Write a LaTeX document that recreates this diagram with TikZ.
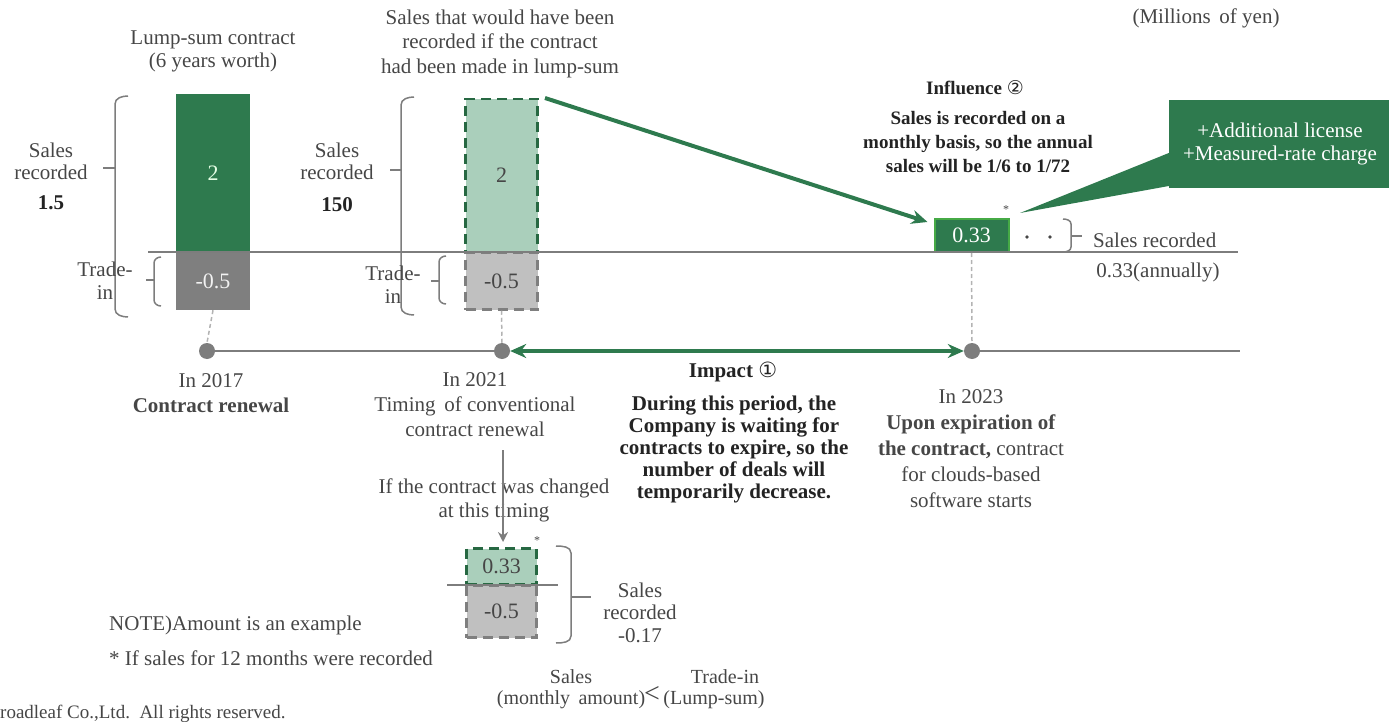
\documentclass[tikz,border=0pt]{standalone}
\usepackage{fontspec}
\setmainfont{Liberation Serif}
\newfontfamily\symfont{DejaVu Sans}
\usetikzlibrary{arrows.meta}

\definecolor{dkgreen}{RGB}{46,122,78}
\definecolor{ltgreen}{RGB}{170,207,187}
\definecolor{brgreen}{RGB}{70,170,70}
\definecolor{dkgrey}{RGB}{127,127,127}
\definecolor{ltgrey}{RGB}{192,192,192}
\definecolor{txt}{RGB}{70,70,70}
\definecolor{boldtxt}{RGB}{35,35,35}
\definecolor{linegrey}{RGB}{125,125,125}

\tikzset{
  lbl/.style={text=txt, font=\fontsize{21}{23}\selectfont, inner sep=0pt, align=center},
  blbl/.style={lbl, text=boldtxt, font=\fontsize{21}{23}\selectfont\bfseries},
  barbox/.style={minimum width=74pt, inner sep=0pt, font=\fontsize{22}{22}\selectfont},
  solidgreen/.style={barbox, fill=dkgreen, text=white!90!green},
  solidgrey/.style={barbox, fill=dkgrey, text=white!90!gray},
  dashgreen/.style={barbox, fill=ltgreen, draw=dkgreen!85!black, line width=2.5pt, dash pattern=on 10pt off 6pt, text=txt},
  dashgrey/.style={barbox, fill=ltgrey, draw=dkgrey, line width=2.5pt, dash pattern=on 10pt off 6pt, text=txt},
  bracepath/.style={draw=linegrey, line width=1.5pt},
  guide/.style={draw=ltgrey!80!gray, line width=1.5pt, dash pattern=on 4pt off 3pt},
  axisline/.style={draw=linegrey, line width=1.5pt},
  tdot/.style={circle, fill=linegrey, minimum size=16pt, inner sep=0pt},
  garrow/.style={draw=dkgreen, line width=4pt, -{Stealth[length=16pt,width=14pt]}},
  gdouble/.style={draw=dkgreen, line width=3.5pt, {Stealth[length=16pt,width=14pt]}-{Stealth[length=16pt,width=14pt]}},
}

\begin{document}
\begin{tikzpicture}[x=1pt,y=-1pt]
\useasboundingbox (0,0) rectangle (1389,722);

% ---- bars of the lump-sum contract (2017) ----
\node[solidgreen, minimum height=158pt] (b1s) at (213,173) {2};
\node[solidgrey, minimum height=58pt] (b1t) at (213,281) {-0.5};

% ---- bars of the hypothetical lump-sum contract (2021) ----
\node[dashgreen, minimum width=72pt, minimum height=153pt] (b2s) at (501.5,175.5) {2};
\node[dashgrey, minimum width=72pt, minimum height=57pt] (b2t) at (501.5,281) {-0.5};

% ---- monthly sales box (2023) ----
\node[barbox, minimum width=74pt, minimum height=33pt, fill=dkgreen, draw=brgreen, line width=2pt, text=white] (b3) at (971.5,235.5) {0.33};

% ---- zero line of the bars ----
\coordinate (z0) at (148,252);
\coordinate (z1) at (1238,252);
\draw[axisline] (z0) -- (z1);

% ---- braces around the first bars ----
\draw[bracepath] (128,96) to[out=180,in=90] (115,104) -- (115,309) to[out=-90,in=180] (128,317);
\draw[bracepath] (115,168) -- (103,168);
\draw[bracepath] (161,257) to[out=180,in=90] (154,263) -- (154,300) to[out=-90,in=180] (161,306);
\draw[bracepath] (154,280) -- (146,280);

\draw[bracepath] (414,97) to[out=180,in=90] (401,105) -- (401,307) to[out=-90,in=180] (414,315);
\draw[bracepath] (401,170) -- (390,170);
\draw[bracepath] (446,256) to[out=180,in=90] (439,262) -- (439,298) to[out=-90,in=180] (446,304);
\draw[bracepath] (439,281) -- (431,281);

% ---- brace of the monthly sales box ----
\draw[bracepath] (1063,219) to[out=0,in=90] (1071,224) -- (1071,247) to[out=-90,in=0] (1063,252);
\draw[bracepath] (1071,236) -- (1082,236);

% ---- continuation dots ----
\fill[txt] (1027,237) circle (1.8pt);
\fill[txt] (1050,237) circle (1.8pt);

% ---- labels around the bars ----
\node[lbl] (t1) at (213,51) {Lump-sum contract\\(6 years worth)};
\node[lbl, font=\fontsize{21}{24.5}\selectfont] (t2) at (500,43.5) {Sales that would have been\\recorded if the contract\\had been made in lump-sum};
\node[lbl] (units) at (1206,18) {(Millions\, of yen)};

\node[lbl, font=\fontsize{21}{22}\selectfont] (sr1) at (51,161) {Sales\\recorded};
\node[blbl] (v1) at (51,203) {1.5};
\node[lbl] (ti1) at (105,281) {Trade-\\in};

\node[lbl, font=\fontsize{21}{22}\selectfont] (sr2) at (337,161) {Sales\\recorded};
\node[blbl] (v2) at (337,205) {150};
\node[lbl] (ti2) at (393,285) {Trade-\\in};

\node[lbl, anchor=west] (sr3) at (1093,240) {Sales recorded};
\node[lbl] (sr3v) at (1158,272) {0.33(annually)};

\node[lbl, font=\fontsize{12}{12}\selectfont] (ast1) at (1006,210) {*};

% ---- callout of additional charges ----
\node[lbl, fill=dkgreen, text=white, minimum width=222pt, minimum height=88pt] (call) at (1280,144) {+Additional license\\+Measured-rate charge};
\coordinate (calltip) at (1020,213);
\fill[dkgreen] (calltip) -- (call.west |- 0,153) -- (call.west |- 0,186) -- cycle;

% ---- influence text ----
\node[blbl, font=\fontsize{19}{23}\selectfont\bfseries] (inf) at (975,88) {Influence {\symfont\mdseries ②}};
\node[blbl, font=\fontsize{19}{24}\selectfont\bfseries] (infb) at (978,142) {Sales is recorded on a\\monthly basis, so the annual\\sales will be 1/6 to 1/72};

% ---- arrow from the lump-sum bar to the monthly box ----
\coordinate (ga0) at (545,98);
\draw[garrow] (ga0) -- ([xshift=-6pt,yshift=-4pt]b3.north west);

% ---- timeline ----
\node[tdot] (d1) at (207,351) {};
\node[tdot] (d2) at (502,351) {};
\node[tdot] (d3) at (972,351) {};
\coordinate (tl1) at (1240,351);
\draw[axisline] (d1) -- (d2);
\draw[axisline] (d3) -- (tl1);
\draw[gdouble] (d2.east) -- (d3.west);

\draw[guide] (b1t.south) -- (d1.north);
\draw[guide] (b2t.south) -- (d2.north);
\draw[guide] (b3.south) -- (d3.north);

% ---- timeline labels ----
\node[lbl, font=\fontsize{21}{25}\selectfont] (y1) at (211,393) {In 2017\\\textbf{Contract renewal}};
\node[lbl, font=\fontsize{21}{25}\selectfont] (y2) at (475,405) {In 2021\\Timing\, of conventional\\contract renewal};
\node[blbl] (imp) at (733,372) {Impact {\symfont\mdseries ①}};
\node[blbl, font=\fontsize{21}{22}\selectfont\bfseries] (impb) at (734,449.5) {During this period, the\\Company is waiting for\\contracts to expire, so the\\number of deals will\\temporarily decrease.};
\node[lbl, font=\fontsize{21}{26}\selectfont] (y3) at (971,449) {In 2023\\\textbf{Upon expiration of}\\\textbf{the contract,} contract\\for clouds-based\\software starts};

% ---- change at the 2021 timing ----
\node[lbl, font=\fontsize{21}{24}\selectfont] (chg) at (494,500) {If the contract was changed\\at this timing};
\coordinate (dn0) at (503,450);
\draw[draw=linegrey, line width=2pt, -{Stealth[length=10pt,width=10pt]}] (dn0) -- (503,542);

\node[dashgreen, minimum width=70pt, minimum height=36pt] (b4s) at (501.5,566.5) {0.33};
\node[dashgrey, minimum width=70pt, minimum height=52pt] (b4t) at (501.5,611.5) {-0.5};
\coordinate (zl0) at (447,585);
\coordinate (zl1) at (558,585);
\draw[axisline] (zl0) -- (zl1);
\node[lbl, font=\fontsize{12}{12}\selectfont] (ast2) at (537,541) {*};

\draw[bracepath] (556,546) to[out=0,in=90] (571,553) -- (571,636) to[out=-90,in=0] (556,643);
\draw[bracepath] (571,597) -- (591,597);
\node[lbl, font=\fontsize{21}{22.5}\selectfont] (sr4) at (640,612.5) {Sales\\recorded\\-0.17};

\node[lbl, font=\fontsize{20}{21}\selectfont] (cmpa) at (571,689.5) {Sales\\(monthly\, amount)};
\node[lbl, font=\fontsize{28}{28}\selectfont] (lt) at (652,694) {<};
\node[lbl, font=\fontsize{20}{21}\selectfont] (cmpb) at (714,689.5) {\hspace*{22pt}Trade-in\\(Lump-sum)};

% ---- notes ----
\node[lbl, anchor=west] (note1) at (109,625) {NOTE)Amount is an example};
\node[lbl, anchor=west] (note2) at (109,658) {* If sales for 12 months were recorded};
\node[lbl, anchor=west, font=\fontsize{19}{19}\selectfont] (copy) at (0,714) {roadleaf Co.,Ltd.\, All rights reserved.};
\end{tikzpicture}
\end{document}
